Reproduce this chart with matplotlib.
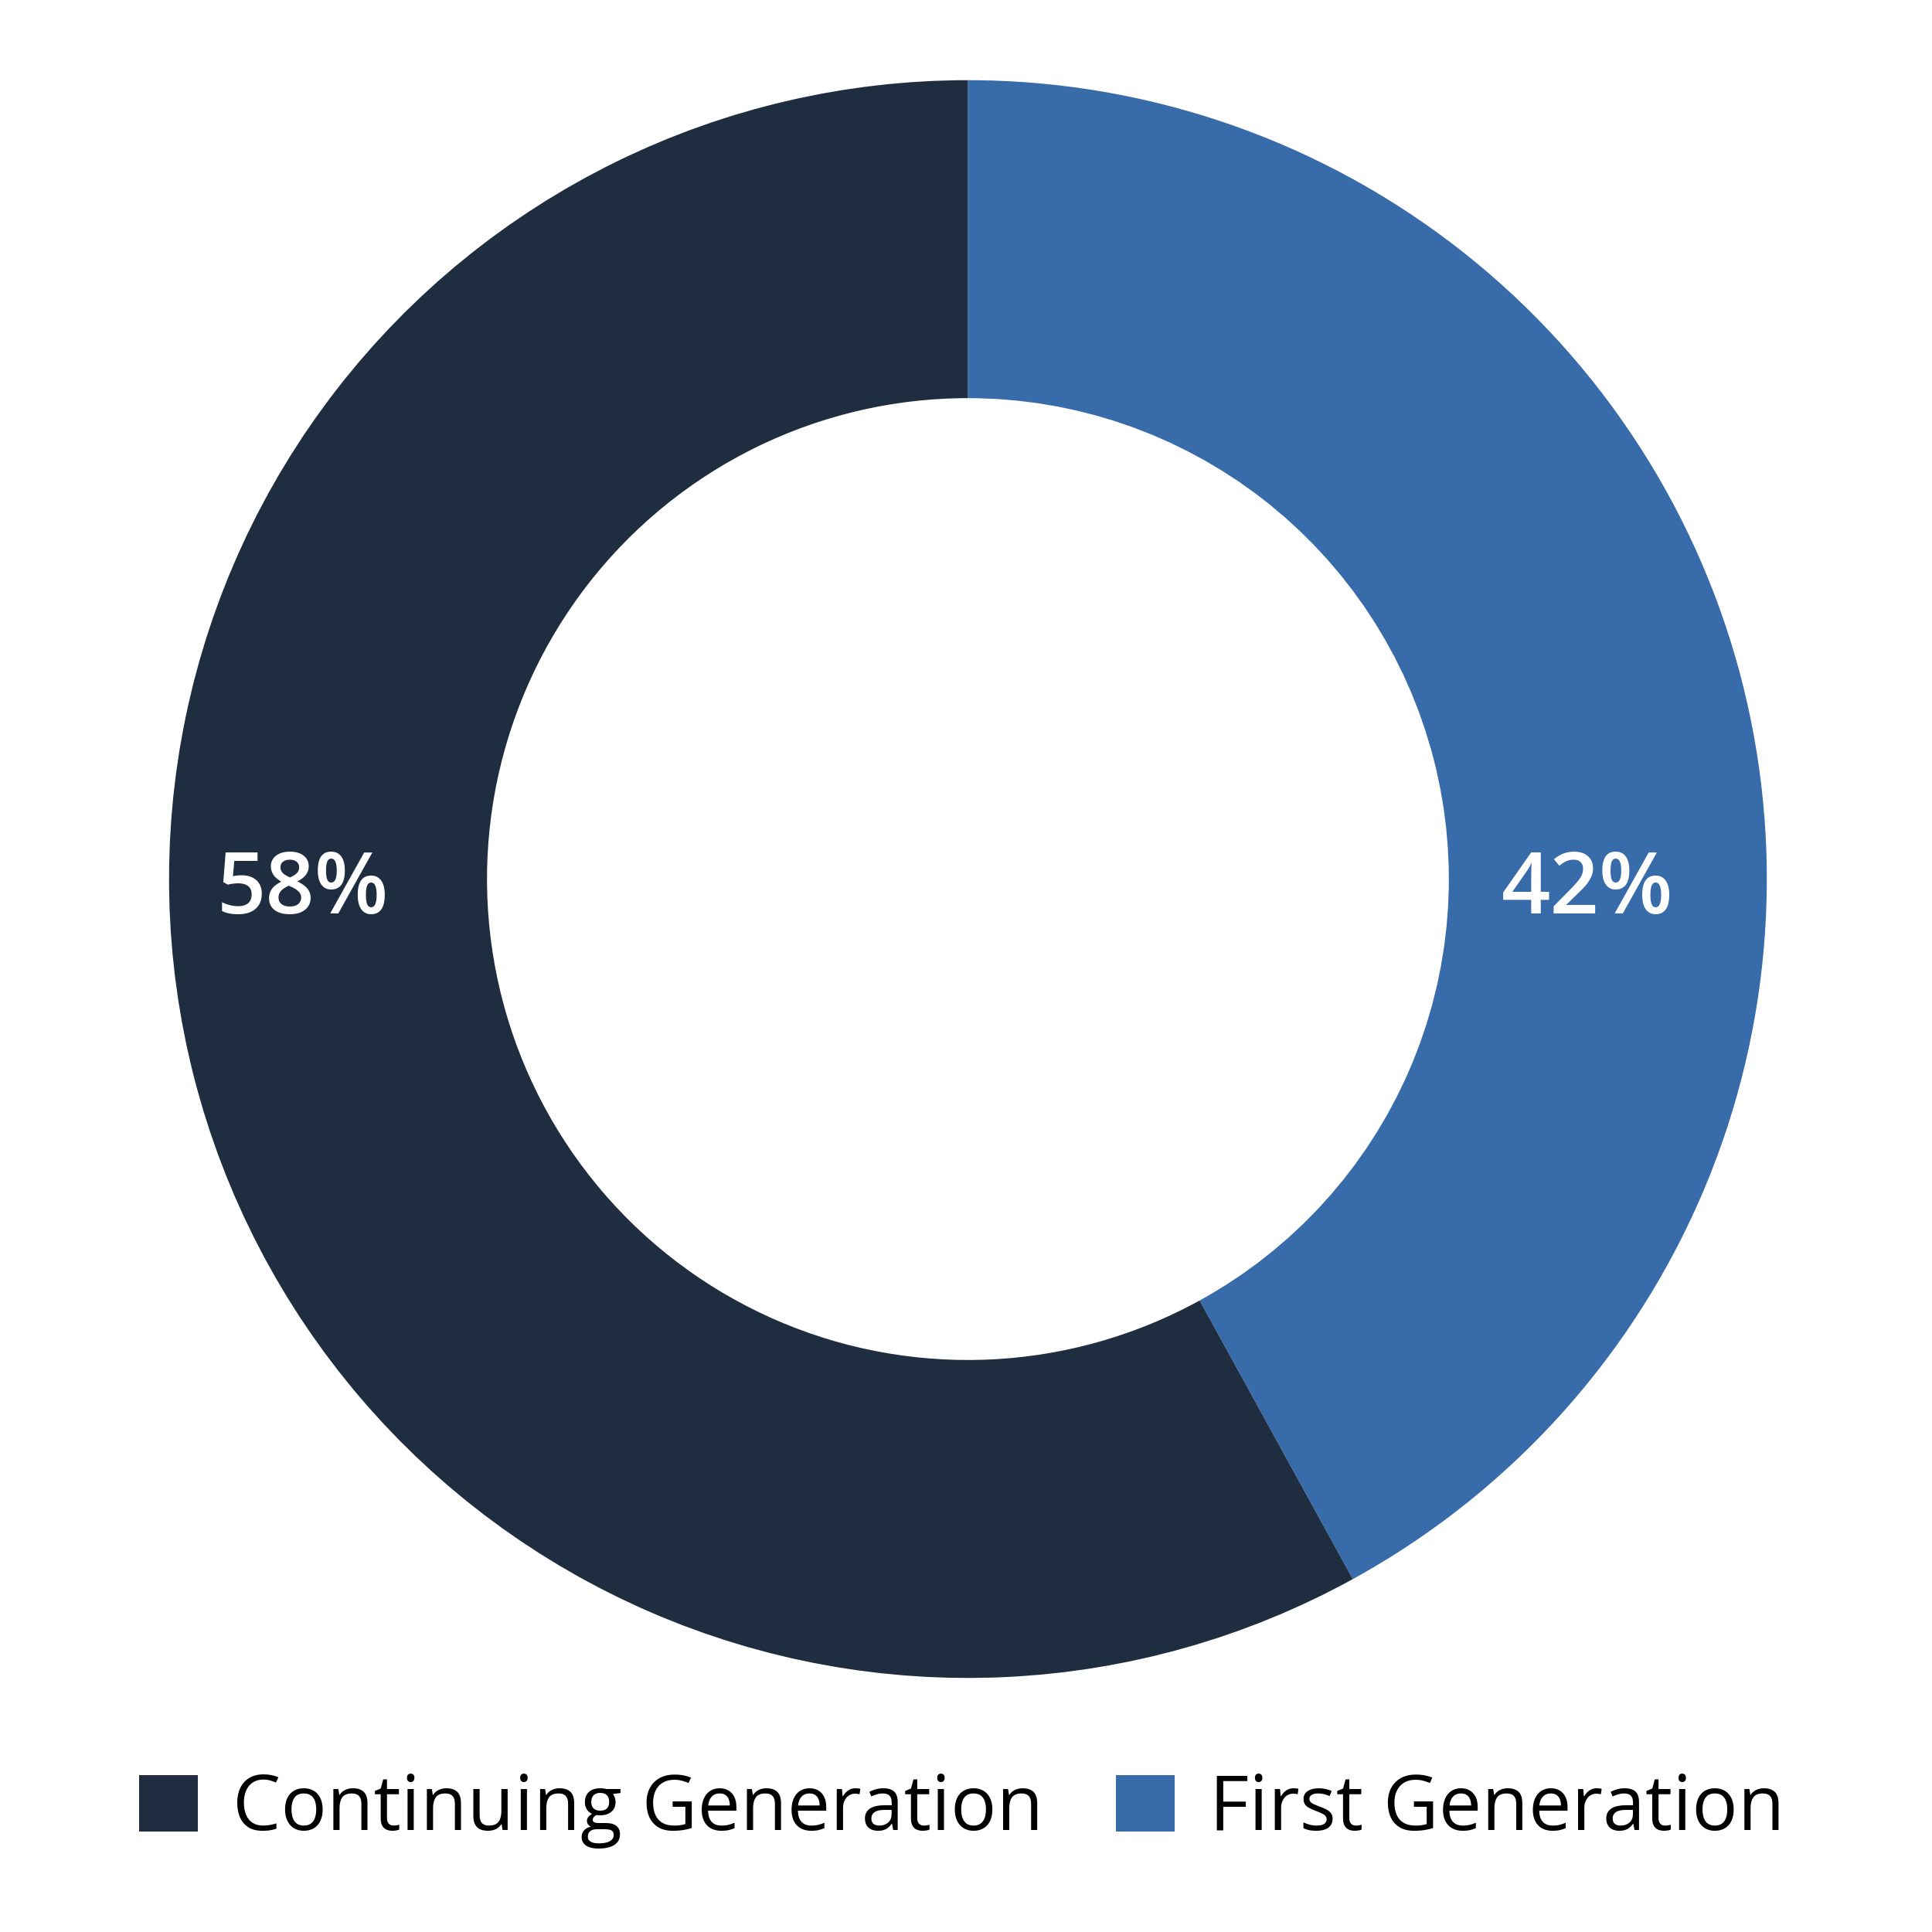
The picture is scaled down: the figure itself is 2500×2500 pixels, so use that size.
import matplotlib.pyplot as plt
from matplotlib.patches import Patch

labels = ['First Generation', 'Continuing Generation']
shares = [42, 58]
colors = ['#386BAA', '#1F2D40']

plt.rcParams['font.family'] = ['Open Sans', 'DejaVu Sans']

fig = plt.figure(figsize=(10, 10), dpi=250)
ax = fig.add_axes([0.501 - 0.4135, 0.545 - 0.4135, 0.827, 0.827])

ax.pie(shares, colors=colors, startangle=90, counterclock=False,
       radius=1, wedgeprops=dict(width=0.398, linewidth=0))
ax.set_aspect('equal')
ax.set_xlim(-1, 1)
ax.set_ylim(-1, 1)
ax.axis('off')

# percentage labels sit on the ring at 3 and 9 o'clock
ax.text(0.775, -0.015, f'{shares[0]}%', color='white', fontsize=32,
        fontweight='semibold', ha='center', va='center')
ax.text(-0.833, -0.015, f'{shares[1]}%', color='white', fontsize=32,
        fontweight='semibold', ha='center', va='center')

handles = [Patch(facecolor=colors[1], label=labels[1]),
           Patch(facecolor=colors[0], label=labels[0])]
fig.legend(handles=handles, loc='center', bbox_to_anchor=(0.498, 0.063),
           ncol=2, frameon=False, fontsize=28.5, handlelength=0.76,
           handleheight=0.76, handletextpad=0.46, columnspacing=0.95)

fig.savefig('out.png', dpi=250, facecolor='white')
